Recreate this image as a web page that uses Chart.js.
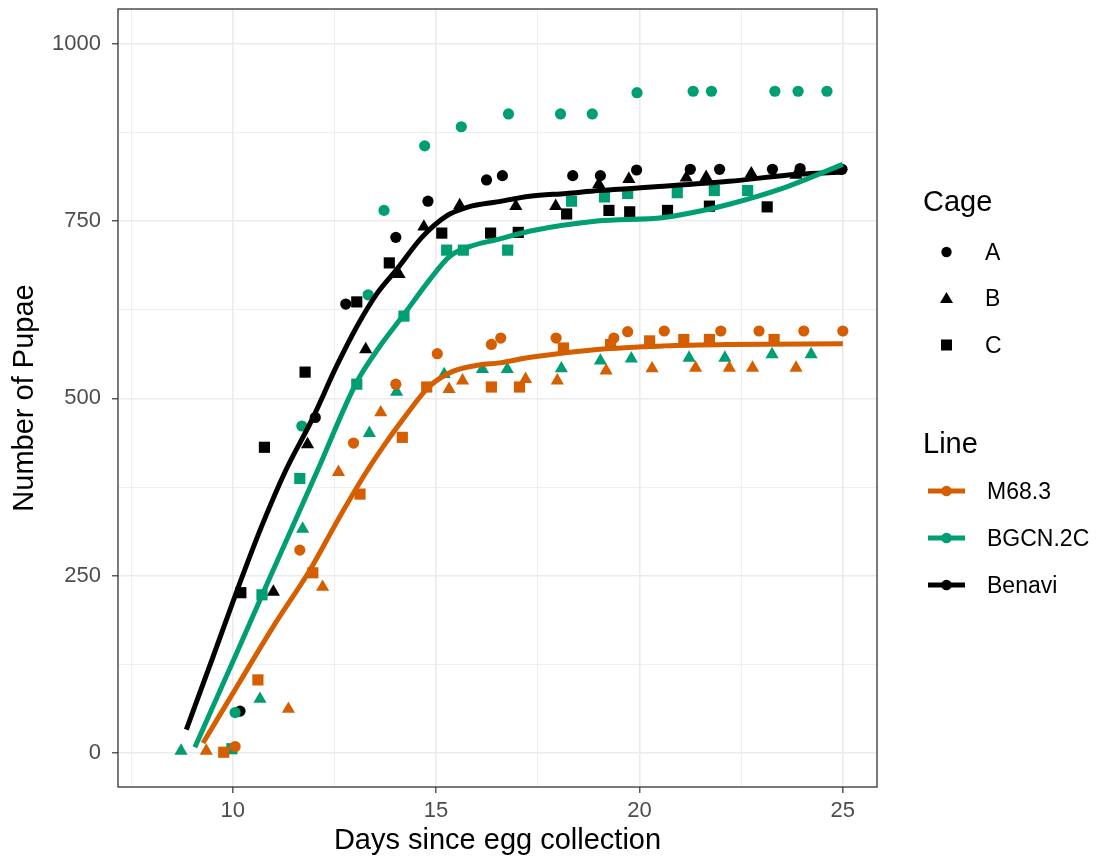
<!DOCTYPE html>
<html>
<head>
<meta charset="utf-8">
<script src="https://cdn.jsdelivr.net/npm/chart.js@4/dist/chart.umd.min.js"></script>
<style>
  body { margin: 0; background: #fff; }
  #wrap { position: relative; width: 1100px; height: 858px; font-family: "Liberation Sans", Arial, sans-serif; }
  #myChart { position: absolute; left: 0; top: 0; }
  #keys { position: absolute; left: 0; top: 0; }
  .lg { position: absolute; white-space: nowrap; color: #000; }
  .lg.title { font-size: 29px; line-height: 29px; }
  .lg.item { font-size: 23px; line-height: 23px; }
</style>
</head>
<body>
<div id="wrap">
  <canvas id="myChart" width="1100" height="858"></canvas>
  <svg id="keys" width="1100" height="858"></svg>
</div>
<script>
// x axis ticks (days) and y axis ticks (pupae)
var xMajor = [10, 15, 20, 25];
var xMinor = [7.5, 12.5, 17.5, 22.5];
var yMajor = [0, 250, 500, 750, 1000];
var yMinor = [125, 375, 625, 875];

var lineNames = ['M68.3', 'BGCN.2C', 'Benavi'];
var lineColors = ['#D55E00', '#009E73', '#000000'];
var cageNames = ['A', 'B', 'C'];

// M68.3
var m68A_days = [10.06, 11.65, 12.97, 14.01, 15.03, 16.36, 16.59, 17.95, 19.37, 19.71, 20.61, 22.0, 22.94, 24.04, 25.0];
var m68A_pupae = [9, 286, 437, 520, 563, 576, 585, 585, 585, 594, 595, 595, 595, 595, 595];
var m68B_days = [9.35, 11.37, 12.21, 12.6, 13.64, 15.32, 15.65, 17.2, 17.98, 19.18, 20.31, 21.38, 22.21, 22.78, 23.85];
var m68B_pupae = [3, 62, 234, 396, 480, 513, 525, 527, 525, 539, 542, 543, 543, 543, 543];
var m68C_days = [9.78, 10.62, 11.97, 13.13, 14.17, 14.77, 16.36, 17.05, 18.13, 19.29, 20.25, 21.09, 21.72, 23.31];
var m68C_pupae = [1, 103, 254, 365, 445, 516, 516, 516, 571, 576, 581, 583, 583, 583];

// BGCN.2C
var bgcnA_days = [10.06, 11.7, 13.33, 13.72, 14.72, 15.62, 16.78, 18.06, 18.84, 19.94, 21.32, 21.77, 23.33, 23.9, 24.61];
var bgcnA_pupae = [57, 461, 646, 765, 856, 883, 901, 901, 901, 931, 933, 933, 933, 933, 933];
var bgcnB_days = [8.73, 10.67, 11.72, 13.36, 14.03, 15.2, 16.14, 16.75, 18.08, 19.04, 19.8, 21.22, 22.1, 23.26, 24.22];
var bgcnB_pupae = [3, 76, 316, 451, 509, 534, 541, 541, 542, 553, 556, 557, 557, 562, 562];
var bgcnC_days = [9.98, 10.72, 11.65, 13.05, 14.21, 15.26, 15.67, 16.76, 18.33, 19.14, 19.71, 20.93, 21.84, 22.66];
var bgcnC_pupae = [6, 223, 387, 520, 616, 709, 709, 709, 778, 784, 789, 790, 793, 793];

// Benavi
var benA_days = [10.18, 12.03, 12.78, 14.01, 14.8, 16.24, 16.63, 18.36, 19.04, 19.93, 21.25, 21.97, 23.27, 23.95, 24.98];
var benA_pupae = [59, 473, 633, 727, 778, 808, 814, 814, 814, 822, 823, 823, 823, 824, 823];
var benB_days = [11.0, 11.84, 13.27, 14.09, 14.7, 15.58, 16.96, 17.94, 19.0, 19.74, 21.15, 21.64, 22.75, 23.85];
var benB_pupae = [227, 435, 569, 675, 742, 772, 771, 771, 802, 809, 811, 812, 817, 815];
var benC_days = [10.2, 10.78, 11.78, 13.05, 13.85, 15.14, 16.34, 17.02, 18.21, 19.25, 19.76, 20.69, 21.72, 23.14];
var benC_pupae = [226, 431, 537, 636, 691, 733, 733, 734, 760, 765, 763, 765, 771, 770];

// smoothed fits
var m68Fit_days = [9.27, 10.15, 11.05, 11.9, 12.6, 13.25, 13.7, 14.18, 14.84, 15.41, 16.06, 16.56, 17.32, 18.96, 20.6, 22.23, 25.0];
var m68Fit_pupae = [14, 98, 183, 258, 330, 393, 432, 470, 517, 538, 547, 550, 558, 569, 574, 576, 577];
var bgcnFit_days = [9.07, 10.06, 10.74, 11.44, 12.09, 13.04, 13.6, 14.18, 14.84, 15.33, 15.82, 16.5, 17.32, 18.96, 20.6, 21.65, 22.23, 23.46, 25.0];
var bgcnFit_pupae = [8, 136, 225, 315, 399, 522, 572, 616, 667, 700, 714, 724, 736, 750, 755, 766, 774, 795, 830];
var benFit_days = [8.86, 9.5, 10.1, 10.7, 11.3, 11.95, 12.55, 13.05, 13.55, 14.05, 14.65, 15.25, 15.8, 16.5, 17.3, 18.2, 19.0, 20.6, 22.2, 23.9, 25.0];
var benFit_pupae = [33, 133, 228, 318, 398, 470, 545, 601, 648, 683, 727, 757, 770, 777, 785, 789, 793, 799, 806, 816, 819];

function pts(xs, ys) {
    return xs.map(function (x, i) { return {x: x, y: ys[i]}; });
}

var shapeStyle = {A: 'circle', B: 'triangle', C: 'rect'};
var shapeRadius = {A: 5.6, B: 7.6, C: 7.9};

function pointSet(name, cage, color, xs, ys) {
    return {
        label: name + ' ' + cage,
        data: pts(xs, ys),
        pointStyle: shapeStyle[cage],
        pointRadius: shapeRadius[cage],
        pointHoverRadius: shapeRadius[cage],
        pointBackgroundColor: color,
        pointBorderWidth: 0,
        backgroundColor: color,
        borderColor: color,
        showLine: false,
        order: 2
    };
}

function fitSet(name, color, xs, ys) {
    return {
        type: 'line',
        label: name,
        data: pts(xs, ys),
        borderColor: color,
        backgroundColor: color,
        borderWidth: 5,
        pointRadius: 0,
        showLine: true,
        fill: false,
        cubicInterpolationMode: 'monotone',
        order: 1
    };
}

function isMajor(list, v) {
    return list.indexOf(v) >= 0;
}

var panelBox = {
    id: 'panelBox',
    afterDraw: function (chart) {
        var a = chart.chartArea, c = chart.ctx;
        c.save();
        c.strokeStyle = '#333333';
        c.lineWidth = 1.3;
        c.strokeRect(a.left, a.top, a.right - a.left, a.bottom - a.top);
        c.restore();
    }
};

var tickFont = {family: '"Liberation Sans", Arial, sans-serif', size: 22};
var titleFont = {family: '"Liberation Sans", Arial, sans-serif', size: 29};

var ctx = document.getElementById('myChart').getContext('2d');

var graphData = {
    type: 'scatter',
    data: {
        datasets: [
            fitSet(lineNames[0], lineColors[0], m68Fit_days, m68Fit_pupae),
            fitSet(lineNames[1], lineColors[1], bgcnFit_days, bgcnFit_pupae),
            fitSet(lineNames[2], lineColors[2], benFit_days, benFit_pupae),
            pointSet(lineNames[0], 'A', lineColors[0], m68A_days, m68A_pupae),
            pointSet(lineNames[0], 'B', lineColors[0], m68B_days, m68B_pupae),
            pointSet(lineNames[0], 'C', lineColors[0], m68C_days, m68C_pupae),
            pointSet(lineNames[1], 'A', lineColors[1], bgcnA_days, bgcnA_pupae),
            pointSet(lineNames[1], 'B', lineColors[1], bgcnB_days, bgcnB_pupae),
            pointSet(lineNames[1], 'C', lineColors[1], bgcnC_days, bgcnC_pupae),
            pointSet(lineNames[2], 'A', lineColors[2], benA_days, benA_pupae),
            pointSet(lineNames[2], 'B', lineColors[2], benB_days, benB_pupae),
            pointSet(lineNames[2], 'C', lineColors[2], benC_days, benC_pupae)
        ]
    },
    options: {
        responsive: false,
        animation: false,
        devicePixelRatio: 1,
        layout: {padding: {left: 0, top: 9, right: 223, bottom: 0}},
        plugins: {legend: {display: false}, tooltip: {enabled: false}},
        scales: {
            x: {
                type: 'linear',
                min: 7.18,
                max: 25.84,
                afterBuildTicks: function (scale) {
                    scale.ticks = xMajor.concat(xMinor).sort(function (a, b) { return a - b; })
                        .map(function (v) { return {value: v}; });
                },
                afterFit: function (scale) {
                    scale.height = 71;
                    scale.paddingLeft = 0;
                    scale.paddingRight = 0;
                },
                ticks: {
                    autoSkip: false,
                    maxRotation: 0,
                    padding: 5,
                    color: '#4D4D4D',
                    font: tickFont,
                    callback: function (v) { return isMajor(xMajor, v) ? String(v) : ''; }
                },
                grid: {
                    color: '#EBEBEB',
                    lineWidth: function (c) { return c.tick && isMajor(xMajor, c.tick.value) ? 1.6 : 0.8; },
                    tickColor: function (c) { return c.tick && isMajor(xMajor, c.tick.value) ? '#333333' : 'rgba(0,0,0,0)'; },
                    tickLength: 6,
                    tickWidth: 1.2
                },
                border: {display: false},
                title: {display: true, text: 'Days since egg collection', color: '#000', font: titleFont, padding: {top: 0, bottom: 0}}
            },
            y: {
                type: 'linear',
                min: -48,
                max: 1049,
                afterBuildTicks: function (scale) {
                    scale.ticks = yMajor.concat(yMinor).sort(function (a, b) { return a - b; })
                        .map(function (v) { return {value: v}; });
                },
                afterFit: function (scale) {
                    scale.width = 118;
                    scale.paddingTop = 0;
                    scale.paddingBottom = 0;
                },
                ticks: {
                    autoSkip: false,
                    padding: 11,
                    color: '#4D4D4D',
                    font: tickFont,
                    callback: function (v) { return isMajor(yMajor, v) ? String(v) : ''; }
                },
                grid: {
                    color: '#EBEBEB',
                    lineWidth: function (c) { return c.tick && isMajor(yMajor, c.tick.value) ? 1.6 : 0.8; },
                    tickColor: function (c) { return c.tick && isMajor(yMajor, c.tick.value) ? '#333333' : 'rgba(0,0,0,0)'; },
                    tickLength: 6,
                    tickWidth: 1.2
                },
                border: {display: false},
                title: {display: true, text: 'Number of Pupae', color: '#000', font: titleFont, padding: {top: 8, bottom: 0}}
            }
        }
    },
    plugins: [panelBox]
};

var myChart = new Chart(ctx, graphData);

// legend, drawn as html text + svg keys
var wrap = document.getElementById('wrap');
var svg = document.getElementById('keys');
var NS = 'http://www.w3.org/2000/svg';

function addText(cls, text, left, capMid, size) {
    var d = document.createElement('div');
    d.className = 'lg ' + cls;
    d.textContent = text;
    d.style.left = left + 'px';
    d.style.top = (capMid - 0.4885 * size) + 'px';
    wrap.appendChild(d);
}
function addSvg(tag, attrs) {
    var el = document.createElementNS(NS, tag);
    for (var k in attrs) el.setAttribute(k, attrs[k]);
    svg.appendChild(el);
}

var keyX = 946.5;
var cageY = [252, 298.5, 345];
var lineY = [491, 538, 585];

addText('title', 'Cage', 923, 201, 29);
cageNames.forEach(function (name, i) {
    var y = cageY[i];
    if (name === 'A') addSvg('circle', {cx: keyX, cy: y, r: 5.2, fill: '#000'});
    if (name === 'B') addSvg('polygon', {points: (keyX - 6.5) + ',' + (y + 4.5) + ' ' + (keyX + 6.5) + ',' + (y + 4.5) + ' ' + keyX + ',' + (y - 6.5), fill: '#000'});
    if (name === 'C') addSvg('rect', {x: keyX - 5.5, y: y - 5.5, width: 11, height: 11, fill: '#000'});
    addText('item', name, 985, y, 23);
});

addText('title', 'Line', 923, 443, 29);
lineNames.forEach(function (name, i) {
    var y = lineY[i];
    addSvg('line', {x1: 928, y1: y, x2: 965, y2: y, stroke: lineColors[i], 'stroke-width': 5});
    addSvg('circle', {cx: keyX, cy: y, r: 5.3, fill: lineColors[i]});
    addText('item', name, 987, y, 23);
});
</script>
</body>
</html>
